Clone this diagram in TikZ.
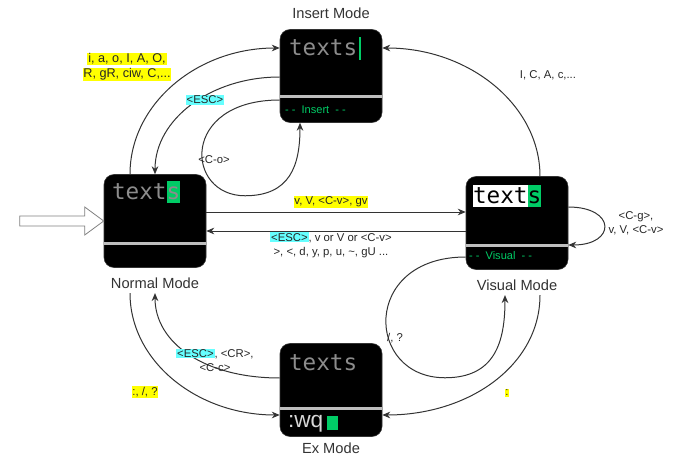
\documentclass[tikz,border=0pt]{standalone}
\usepackage{fontspec}
\setmainfont{Liberation Sans}
\newfontfamily\monofont{DejaVu Sans Mono}
\usepackage{xcolor}
\usepackage{tikz}
\usetikzlibrary{arrows.meta,calc}

\definecolor{vimgreen}{RGB}{0,204,102}
\definecolor{hlyellow}{RGB}{255,255,0}
\definecolor{hlcyan}{RGB}{102,255,255}
\definecolor{linegray}{RGB}{51,51,51}
\definecolor{textgray}{RGB}{140,140,140}
\definecolor{sepgray}{RGB}{190,190,190}
\definecolor{cmdgray}{RGB}{215,215,215}

\newcommand{\hly}[1]{{\setlength{\fboxsep}{0.6pt}\colorbox{hlyellow}{#1}}}
\newcommand{\hlc}[1]{{\setlength{\fboxsep}{0.6pt}\colorbox{hlcyan}{#1}}}
\newcommand{\curbox}[2]{{\setlength{\fboxsep}{0pt}\colorbox{#1}{\rule[-0.15em]{0pt}{0.95em}#2}}}

\begin{document}
\begin{tikzpicture}[x=0.75pt, y=-0.75pt,
    mode/.style={draw=linegray, fill=black, rounded corners=7.5pt,
        minimum width=76.5pt, minimum height=69.75pt, inner sep=0pt},
    screen/.style={font=\monofont\fontsize{17}{17}\selectfont, text=textgray,
        inner sep=0pt, anchor=west},
    status/.style={font=\fontsize{8.3}{10}\selectfont, text=vimgreen,
        inner sep=0pt, anchor=west},
    title/.style={font=\fontsize{11}{13}\selectfont, text=black!80},
    lbl/.style={font=\fontsize{8.5}{10.5}\selectfont, text=black!85,
        align=center, inner sep=1pt},
    conn/.style={draw=linegray, line width=0.75pt, -{Stealth[length=6pt,width=5pt]}},
    sep/.style={draw=sepgray, line width=2.25pt}]
    \useasboundingbox (0,0) rectangle (690,460);

    % Modes
    \node[mode] (ins) at (331,76) {};
    \node[mode] (nor) at (155,221) {};
    \node[mode] (vis) at (517,223) {};
    \node[mode] (ex) at (331,390) {};

    \node[title] (ins-title) at (331,13) {Insert Mode};
    \node[title] (nor-title) at (155,283) {Normal Mode};
    \node[title] (vis-title) at (517,285) {Visual Mode};
    \node[title] (ex-title) at (331,448) {Ex Mode};

    % Insert screen
    \node[screen] (ins-txt) at ($(ins.north west)+(9,19)$)
        {texts\hspace{1pt}\textcolor{vimgreen}{\rule[-0.2em]{1.6pt}{1em}}};
    \draw[sep] ($(ins.west)+(0,21)$) -- ($(ins.east)+(0,21)$);
    \node[status] (ins-mode) at ($(ins.west)+(5,34)$) {-~-~~Insert~~-~-};

    % Normal screen
    \node[screen] (nor-txt) at ($(nor.north west)+(8,18)$) {text\curbox{vimgreen}{s}};
    \draw[sep] ($(nor.west)+(0,22)$) -- ($(nor.east)+(0,22)$);

    % Visual screen
    \node[screen] (vis-txt) at ($(vis.north west)+(7,20)$)
        {\curbox{white}{\textcolor{black}{text}}\curbox{vimgreen}{\textcolor{black}{s}}};
    \draw[sep] ($(vis.west)+(0,22)$) -- ($(vis.east)+(0,22)$);
    \node[status] (vis-mode) at ($(vis.west)+(3,33)$) {-~-~~Visual~~-~-};

    % Ex screen
    \node[screen] (ex-txt) at ($(ex.north west)+(9,19)$) {texts};
    \draw[sep] ($(ex.west)+(0,18)$) -- ($(ex.east)+(0,18)$);
    \node[screen, font=\fontsize{17}{17}\selectfont, text=cmdgray] (ex-cmd) at ($(ex.west)+(8,34)$)
        {:wq\hspace{2.5pt}\textcolor{vimgreen}{\rule[-2pt]{8.2pt}{11.2pt}}};

    % Entry arrow
    \draw[draw=gray, fill=white, line width=0.6pt] (nor.west) -- ++(-19,-14) -- ++(0,9)
        -- ++(-65,0) -- ++(0,10) -- ++(65,0) -- ++(0,9) -- cycle;

    % Normal <-> Insert
    \draw[conn] ($(nor.north)+(-25,0)$) .. controls +(0,-70) and +(-83,0) .. ($(ins.west)+(0,-28)$);
    \draw[conn] ($(ins.west)+(0,1)$) .. controls +(-69,0) and +(0,-55) .. (nor.north);
    \draw[conn] ($(ins.west)+(0,24)$) .. controls +(-100,0) and +(-60,0) .. ($(ins.south)+(-86,73)$)
        .. controls +(45,0) and +(0,43) .. ($(ins.south)+(-31,0)$);

    % Visual -> Insert
    \draw[conn] ($(vis.north)+(23,0)$) .. controls +(0,-71) and +(87,0) .. ($(ins.east)+(0,-28)$);

    % Normal <-> Visual
    \draw[conn] ($(nor.east)+(0,-9)$) -- ($(vis.west)+(0,-11)$);
    \draw[conn] ($(vis.west)+(0,8)$) -- ($(nor.east)+(0,10)$);
    \draw[conn] ($(vis.east)+(0,-16)$) .. controls +(48,0) and +(48,0) .. ($(vis.east)+(0,22)$);

    % Normal <-> Ex
    \draw[conn] ($(nor-title.south)+(-25,0)$) .. controls +(0,68) and +(-83,0) .. ($(ex.west)+(0,25)$);
    \draw[conn] ($(ex.west)+(0,-12)$) .. controls +(-75,0) and +(0,50) .. (nor-title.south);

    % Visual -> Ex
    \draw[conn] ($(vis-title.south)+(23,0)$) .. controls +(0,70) and +(87,0) .. ($(ex.east)+(0,25)$);
    \draw[conn] ($(vis.west)+(0,34)$) .. controls +(-105,0) and +(-80,0) .. ($(vis.south)+(-72,108)$)
        .. controls +(50,0) and +(0,47) .. (vis-title.south -| {$(vis.south)+(-12,0)$});

    % Labels
    \node[lbl, font=\fontsize{9.5}{11.5}\selectfont] (l-ins) at (127,67)
        {\hly{i, a, o, I, A, O,}\\\hly{R, gR, ciw, C,...}};
    \node[lbl] (l-esc) at (205,100) {\hlc{<ESC>}};
    \node[lbl] (l-co) at (214,160) {<C-o>};
    \node[lbl] (l-vi) at (548,75) {I, C, A, c,...};
    \node[lbl] (l-nv) at (331,202) {\hly{v, V, <C-v>, gv}};
    \node[lbl] (l-vn) at (331,245) {\hlc{<ESC>}, v or V or <C-v>\\>, <, d, y, p, u, \textasciitilde, gU ...};
    \node[lbl] (l-vv) at (636,223) {<C-g>,\\v, V, <C-v>};
    \node[lbl] (l-en) at (215,360) {\hlc{<ESC>}, <CR>,\\<C-c>};
    \node[lbl] (l-ne) at (145,392) {\hly{:, /, ?}};
    \node[lbl] (l-ve) at (507,393) {\hly{:}};
    \node[lbl] (l-vs) at (395,338) {/, ?};
\end{tikzpicture}
\end{document}
